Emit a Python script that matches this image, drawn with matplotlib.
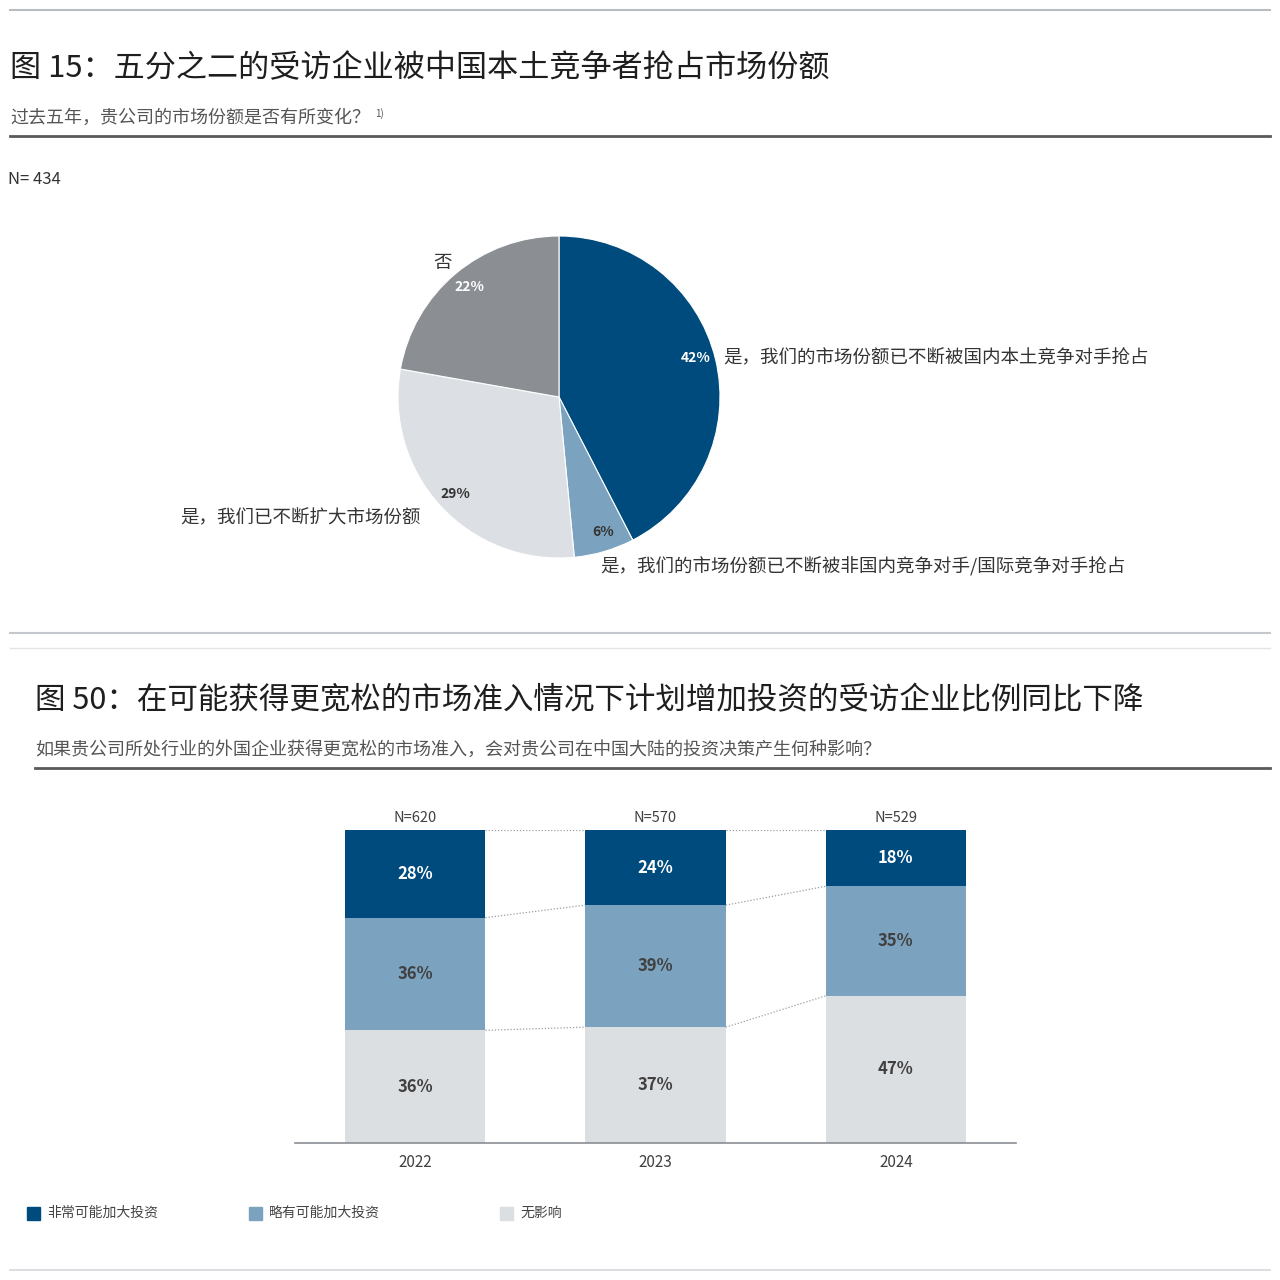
import numpy as np
import matplotlib
matplotlib.use("Agg")
import matplotlib.pyplot as plt
from matplotlib.lines import Line2D
from matplotlib.patches import Rectangle

plt.rcParams['font.family'] = ['Noto Sans CJK SC', 'DejaVu Sans']

# ---- data: figure 15 (pie) ----
pie_labels = ["是，我们的市场份额已不断被国内本土竞争对手抢占",
              "是，我们的市场份额已不断被非国内竞争对手/国际竞争对手抢占",
              "是，我们已不断扩大市场份额",
              "否"]
pie_values = [42, 6, 29, 22]
pie_pct_text = ["42%", "6%", "29%", "22%"]
pie_colors = ["#004b7d", "#7ba3bf", "#dcdfe3", "#8b8f93"]
pie_pct_colors = ["white", "#333333", "#333333", "white"]
pie_pct_angles = [16, -72, 223, 129]   # where the % labels sit (deg)

# ---- data: figure 50 (stacked bars) ----
years = ["2022", "2023", "2024"]
n_labels = ["N=620", "N=570", "N=529"]
very_likely = [28, 24, 18]
slightly_likely = [36, 39, 35]
no_impact = [36, 37, 47]
series_names = ["非常可能加大投资", "略有可能加大投资", "无影响"]
bar_colors = ["#004b7d", "#7ba3bf", "#dcdfe2"]

W = H = 1280
fig = plt.figure(figsize=(12.8, 12.8), dpi=100)


def fx(px):
    return px / W


def fy(py):
    return 1 - py / H


def hline(y, x0, x1, color, lw):
    fig.add_artist(Line2D([fx(x0), fx(x1)], [fy(y), fy(y)], color=color, lw=lw,
                          transform=fig.transFigure))


# ---------- top section ----------
hline(10, 10, 1270, "#b8bcc0", 1.5)
fig.text(fx(10), fy(69), "图 15：五分之二的受访企业被中国本土竞争者抢占市场份额",
         fontsize=22.4, color="#1e1e1e", va="center", ha="left")
fig.text(fx(10), fy(118), "过去五年，贵公司的市场份额是否有所变化？", fontsize=13,
         color="#555555", va="center", ha="left")
fig.text(fx(375), fy(114), "1)", fontsize=7, color="#555555", va="center", ha="left")
hline(136, 10, 1270, "#5a5a5a", 2)
fig.text(fx(8), fy(179), "N= 434", fontsize=12, color="#333333", va="center", ha="left")

# pie
cx, cy, r = 559, 397, 161
ax_pie = fig.add_axes([fx(cx - r), fy(cy + r), 2 * r / W, 2 * r / H])
ax_pie.pie(pie_values, colors=pie_colors, startangle=90, counterclock=False,
           radius=1, wedgeprops=dict(linewidth=0.8, edgecolor="white"))
ax_pie.set_xlim(-1, 1)
ax_pie.set_ylim(-1, 1)
ax_pie.set_aspect("equal")
ax_pie.axis("off")
for txt, ang, col in zip(pie_pct_text, pie_pct_angles, pie_pct_colors):
    a = np.deg2rad(ang)
    ax_pie.text(0.88 * np.cos(a), 0.88 * np.sin(a), txt, ha="center", va="center",
                fontsize=10, fontweight="bold", color=col)

fig.text(fx(723), fy(358), pie_labels[0], fontsize=13.3, color="#333333",
         va="center", ha="left")
fig.text(fx(600), fy(567), pie_labels[1], fontsize=13.3, color="#333333",
         va="center", ha="left")
fig.text(fx(421), fy(518), pie_labels[2], fontsize=13.3, color="#333333",
         va="center", ha="right")
fig.text(fx(443), fy(263), pie_labels[3], fontsize=13.3, color="#333333",
         va="center", ha="center")

# separator
hline(633, 10, 1270, "#c4c8cc", 1.5)
hline(648, 10, 1270, "#e2e4e6", 1.0)

# ---------- bottom section ----------
fig.text(fx(35), fy(701), "图 50：在可能获得更宽松的市场准入情况下计划增加投资的受访企业比例同比下降",
         fontsize=22, color="#1e1e1e", va="center", ha="left")
fig.text(fx(35), fy(750), "如果贵公司所处行业的外国企业获得更宽松的市场准入，会对贵公司在中国大陆的投资决策产生何种影响？",
         fontsize=13, color="#555555", va="center", ha="left")
hline(768, 35, 1270, "#5a5a5a", 2)

ax = fig.add_axes([fx(295), fy(1143), (1016 - 295) / W, (1143 - 830) / H])
x = np.arange(len(years))
bw = 0.585
bottoms = np.zeros(len(years))
stack = [no_impact, slightly_likely, very_likely]
stack_colors = [bar_colors[2], bar_colors[1], bar_colors[0]]
text_colors = ["#404040", "#404040", "white"]
for vals, col, tc in zip(stack, stack_colors, text_colors):
    vals = np.array(vals)
    ax.bar(x, vals, bw, bottom=bottoms, color=col, edgecolor="none")
    for xi, b, v in zip(x, bottoms, vals):
        ax.text(xi, b + v / 2, f"{v}%", ha="center", va="center", fontsize=12,
                fontweight="bold", color=tc)
    bottoms = bottoms + vals

# dotted connectors between segment boundaries
bounds = [np.array(no_impact) + np.array(slightly_likely) + np.array(very_likely),
          np.array(no_impact) + np.array(slightly_likely),
          np.array(no_impact)]
for bnd in bounds:
    for i in range(len(years) - 1):
        ax.plot([x[i] + bw / 2, x[i + 1] - bw / 2], [bnd[i], bnd[i + 1]],
                linestyle=(0, (1, 1.5)), color="#9a9ea2", lw=0.9)

for xi, n in zip(x, n_labels):
    ax.text(xi, 101.5, n, ha="center", va="bottom", fontsize=10.5, color="#404040")

ax.set_xlim(-0.5, 2.5)
ax.set_ylim(0, 100)
ax.set_xticks(x)
ax.set_xticklabels(years, fontsize=11, color="#404040")
ax.tick_params(axis="x", length=0, pad=8)
ax.set_yticks([])
for s in ["top", "left", "right"]:
    ax.spines[s].set_visible(False)
ax.spines["bottom"].set_color("#8a8e92")
ax.spines["bottom"].set_linewidth(1.2)

# legend
leg_x = [27, 249, 500]
for lx, name, col in zip(leg_x, series_names, bar_colors):
    fig.add_artist(Rectangle((fx(lx), fy(1220)), 13 / W, 13 / H, color=col,
                             transform=fig.transFigure))
    fig.text(fx(lx + 20), fy(1213), name, fontsize=10, color="#444444",
             va="center", ha="left")

hline(1270, 10, 1270, "#d4d7da", 1.2)

fig.savefig("out.png", dpi=100, facecolor="white")
